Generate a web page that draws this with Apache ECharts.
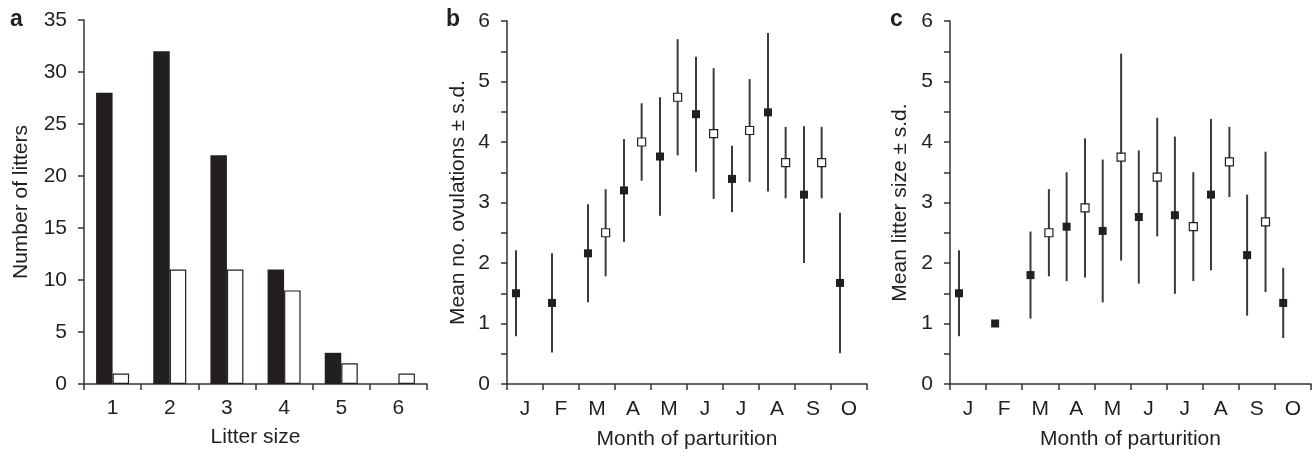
<!DOCTYPE html>
<html>
<head>
<meta charset="utf-8">
<script src="https://cdn.jsdelivr.net/npm/echarts@6/dist/echarts.min.js"></script>
<style>html,body{margin:0;padding:0;background:#fff}#c{width:1314px;height:456px}</style>
</head>
<body>
<div id="c"></div>
<script>
// Panel a: litter size distribution
const litterSizes = ['1', '2', '3', '4', '5', '6'];
const filledCounts = [28, 32, 22, 11, 3, 0];
const openCounts = [1, 11, 11, 9, 2, 1];

// Month axis
const months = ['J', 'F', 'M', 'A', 'M', 'J', 'J', 'A', 'S', 'O'];
const yTicksMonthPanels = [0, 1, 2, 3, 4, 5, 6];

// Panel b: mean no. ovulations ± s.d.
const bFilledPos = [0.25, 1.25, 2.25, 3.25, 4.25, 5.25, 6.25, 7.25, 8.25, 9.25];
const bFilledMean = [1.50, 1.34, 2.16, 3.20, 3.76, 4.46, 3.39, 4.49, 3.13, 1.67];
const bFilledSd = [0.71, 0.82, 0.81, 0.85, 0.98, 0.95, 0.55, 1.31, 1.13, 1.16];
const bOpenPos = [2.74, 3.74, 4.74, 5.74, 6.74, 7.74, 8.74];
const bOpenMean = [2.50, 4.00, 4.74, 4.14, 4.19, 3.66, 3.66];
const bOpenSd = [0.72, 0.64, 0.96, 1.08, 0.85, 0.59, 0.59];

// Panel c: mean litter size ± s.d.
const cFilledPos = [0.25, 1.25, 2.23, 3.23, 4.23, 5.23, 6.23, 7.23, 8.23, 9.23];
const cFilledMean = [1.50, 1.00, 1.80, 2.60, 2.53, 2.76, 2.79, 3.13, 2.13, 1.34];
const cFilledSd = [0.71, 0, 0.72, 0.90, 1.18, 1.10, 1.30, 1.25, 1.00, 0.58];
const cOpenPos = [2.74, 3.74, 4.74, 5.74, 6.74, 7.74, 8.74];
const cOpenMean = [2.50, 2.91, 3.75, 3.42, 2.60, 3.67, 2.68];
const cOpenSd = [0.72, 1.15, 1.71, 0.98, 0.90, 0.58, 1.16];

const FONT = 'Liberation Sans, Arial, Helvetica, sans-serif';
const INK = '#231f20';
const AXIS = '#333333';
const FS = 21;

function zip3(a, b, c) { return a.map((v, i) => [v, b[i], c[i]]); }
function zip2(a, b) { return a.map((v, i) => [v, b[i]]); }

const axisLineStyle = { show: true, lineStyle: { color: AXIS, width: 1.5 } };
const axisTickStyle = { show: true, length: 6, lineStyle: { color: AXIS, width: 1.5 } };
const labelStyle = { color: INK, fontSize: FS, fontFamily: FONT };

function errRender(params, api) {
  const x = api.value(0), m = api.value(1), s = api.value(2);
  if (!(s > 0)) return null;
  const p1 = api.coord([x, m - s]);
  const p2 = api.coord([x, m + s]);
  return { type: 'line', shape: { x1: p1[0], y1: p1[1], x2: p2[0], y2: p2[1] },
           style: { stroke: '#3a3a3a', lineWidth: 2 } };
}

function monthCat(grid) {
  return {
    type: 'category', gridIndex: grid, data: months.map((m, i) => String(i)),
    boundaryGap: true,
    axisLine: axisLineStyle, axisTick: axisTickStyle,
    axisLabel: Object.assign({ margin: 15, interval: 0, formatter: (v) => months[+v] }, labelStyle),
    name: 'Month of parturition', nameLocation: 'middle', nameGap: 45,
    nameTextStyle: labelStyle, splitLine: { show: false }
  };
}
function monthVal(grid) {
  return { type: 'value', gridIndex: grid, min: 0, max: 10, show: false, splitLine: { show: false } };
}
function meanY(grid, name, gap) {
  return {
    type: 'value', gridIndex: grid, min: 0, max: 6, interval: 0.5,
    axisLine: axisLineStyle, axisTick: axisTickStyle,
    axisLabel: Object.assign({ margin: 17, formatter: (v) => yTicksMonthPanels.indexOf(v) >= 0 ? String(v) : '' }, labelStyle),
    name: name, nameLocation: 'middle', nameGap: gap, nameTextStyle: labelStyle,
    splitLine: { show: false }
  };
}

function panelSeries(xIdx, yIdx, fPos, fMean, fSd, oPos, oMean, oSd) {
  return [
    { type: 'custom', name: 'filled s.d.', xAxisIndex: xIdx, yAxisIndex: yIdx, renderItem: errRender,
      encode: { x: 0, y: 1 }, data: zip3(fPos, fMean, fSd), z: 2, silent: true },
    { type: 'custom', name: 'open s.d.', xAxisIndex: xIdx, yAxisIndex: yIdx, renderItem: errRender,
      encode: { x: 0, y: 1 }, data: zip3(oPos, oMean, oSd), z: 2, silent: true },
    { type: 'scatter', name: 'filled', xAxisIndex: xIdx, yAxisIndex: yIdx, symbol: 'rect', symbolSize: 8,
      itemStyle: { color: INK, opacity: 1 }, data: zip2(fPos, fMean), z: 3 },
    { type: 'scatter', name: 'open', xAxisIndex: xIdx, yAxisIndex: yIdx, symbol: 'rect', symbolSize: 8,
      itemStyle: { color: '#ffffff', borderColor: INK, borderWidth: 1.2, opacity: 1 }, data: zip2(oPos, oMean), z: 3 }
  ];
}

const chart = echarts.init(document.getElementById('c'), null, { renderer: 'canvas' });
const option = {
  animation: false,
  backgroundColor: '#ffffff',
  textStyle: { fontFamily: FONT },
  grid: [
    { left: 84, top: 20, width: 343, height: 364 },
    { left: 507, top: 21, width: 360, height: 363 },
    { left: 950, top: 21, width: 361, height: 363 }
  ],
  xAxis: [
    { type: 'category', gridIndex: 0, data: litterSizes, boundaryGap: true,
      axisLine: axisLineStyle, axisTick: axisTickStyle,
      axisLabel: Object.assign({ margin: 14, interval: 0 }, labelStyle),
      name: 'Litter size', nameLocation: 'middle', nameGap: 43, nameTextStyle: labelStyle },
    monthCat(1), monthVal(1),
    monthCat(2), monthVal(2)
  ],
  yAxis: [
    { type: 'value', gridIndex: 0, min: 0, max: 35, interval: 5,
      axisLine: axisLineStyle, axisTick: axisTickStyle,
      axisLabel: Object.assign({ margin: 17 }, labelStyle),
      name: 'Number of litters', nameLocation: 'middle', nameGap: 52, nameTextStyle: labelStyle,
      splitLine: { show: false } },
    meanY(1, 'Mean no. ovulations ± s.d.', 38),
    meanY(2, 'Mean litter size ± s.d.', 39)
  ],
  series: [
    { type: 'bar', name: 'filled', xAxisIndex: 0, yAxisIndex: 0, data: filledCounts,
      barWidth: 16.5, barGap: '0%', itemStyle: { color: INK } },
    { type: 'bar', name: 'open', xAxisIndex: 0, yAxisIndex: 0, data: openCounts,
      barWidth: 16.5, barGap: '0%', itemStyle: { color: '#ffffff', borderColor: INK, borderWidth: 1.2 } }
  ].concat(
    panelSeries(2, 1, bFilledPos, bFilledMean, bFilledSd, bOpenPos, bOpenMean, bOpenSd),
    panelSeries(4, 2, cFilledPos, cFilledMean, cFilledSd, cOpenPos, cOpenMean, cOpenSd)
  ),
  graphic: [
    { type: 'text', left: 10, top: 8, style: { text: 'a', fontSize: 23, fontWeight: 'bold', fontFamily: FONT, fill: INK } },
    { type: 'text', left: 446, top: 8, style: { text: 'b', fontSize: 23, fontWeight: 'bold', fontFamily: FONT, fill: INK } },
    { type: 'text', left: 890, top: 8, style: { text: 'c', fontSize: 23, fontWeight: 'bold', fontFamily: FONT, fill: INK } }
  ]
};
chart.setOption(option);
</script>
</body>
</html>
